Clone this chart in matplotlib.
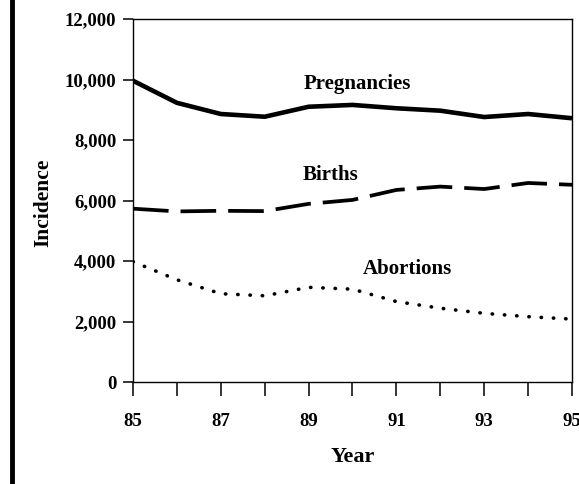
import matplotlib
matplotlib.use("Agg")
import matplotlib.pyplot as plt

# values
years = [85, 86, 87, 88, 89, 90, 91, 92, 93, 94, 95]
pregnancies = [9960, 9230, 8860, 8770, 9100, 9160, 9050, 8970, 8760, 8860, 8720]
births = [5730, 5640, 5660, 5650, 5890, 6020, 6350, 6460, 6380, 6580, 6520]
abortions = [3980, 3380, 2920, 2850, 3130, 3070, 2660, 2440, 2270, 2160, 2080]

xtick_labels = ["85", "87", "89", "91", "93", "95"]
ytick_vals = [0, 2000, 4000, 6000, 8000, 10000, 12000]

plt.rcParams['font.family'] = ['Liberation Serif', 'DejaVu Serif']
plt.rcParams['font.weight'] = 'bold'

fig = plt.figure(figsize=(5.79, 4.84), dpi=100)
ax = fig.add_axes([0.2297, 0.2107, 0.7582, 0.75])

ax.plot(years, pregnancies, color='black', lw=3.3, solid_capstyle='butt')
ax.plot(years, births, color='black', lw=2.7, linestyle=(0, (9.5, 3.2)), dash_capstyle='butt')
ax.plot(years, abortions, color='black', lw=2.6, linestyle=(0, (0.1, 3.3)), dash_capstyle='round')

ax.text(90.1, 9850, "Pregnancies", ha='center', va='center', fontsize=15, fontweight='bold')
ax.text(89.5, 6860, "Births", ha='center', va='center', fontsize=15, fontweight='bold')
ax.text(91.25, 3730, "Abortions", ha='center', va='center', fontsize=15, fontweight='bold')

ax.set_xlim(85, 95)
ax.set_ylim(0, 12000)
ax.set_xticks(years)
ax.set_xticklabels([str(y) if str(y) in xtick_labels else "" for y in years])
ax.set_yticks(ytick_vals)
ax.set_yticklabels(["{:,}".format(v) for v in ytick_vals])

ax.tick_params(axis='x', direction='out', length=10, width=1.1, pad=12, labelsize=13.5)
ax.tick_params(axis='y', direction='out', length=7, width=1.1, pad=5, labelsize=13.5)
for lab in ax.get_xticklabels() + ax.get_yticklabels():
    lab.set_fontweight('bold')

for s in ax.spines.values():
    s.set_linewidth(1.0)
    s.set_color('black')

ax.set_ylabel("Incidence", fontsize=15.5, fontweight='bold')
ax.yaxis.set_label_coords(-0.182, 0.493)
ax.set_xlabel("Year", fontsize=16, fontweight='bold')
ax.xaxis.set_label_coords(0.5, -0.18)

# thick scan border on the left
fig.add_artist(plt.Line2D([0.021, 0.021], [0, 1], transform=fig.transFigure, color='black', lw=3.5))

fig.savefig("out.png", dpi=100)
